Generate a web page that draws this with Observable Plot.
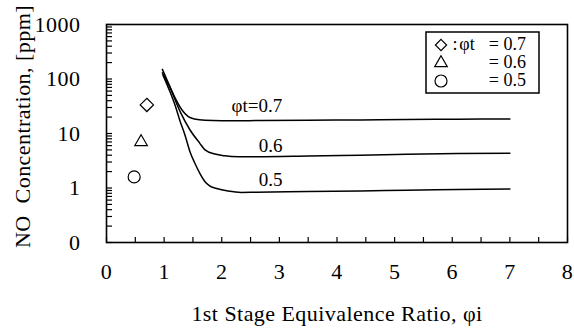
<!DOCTYPE html>
<html>
<head>
<meta charset="utf-8">
<script src="https://cdn.jsdelivr.net/npm/d3@7"></script>
<script src="https://cdn.jsdelivr.net/npm/@observablehq/plot@0.6"></script>
<style>
  body { margin: 0; background: white; }
  #chart { position: relative; width: 574px; height: 334px; }
  #chart svg text { font-family: "Liberation Serif", "Times New Roman", serif !important; font-variant-numeric: normal !important; }
</style>
</head>
<body>
<div id="chart"></div>
<script>
// ---- data ----
const xTickLabels = [0, 1, 2, 3, 4, 5, 6, 7, 8];
const xMinorTicks = d3.range(0, 8.01, 0.5);
const yTickValues = [0.1, 1, 10, 100, 1000];
const yTickLabels = ["0", "1", "10", "100", "1000"];
const yMinorTicks = [0.1, 1, 10, 100].flatMap(d => [1,2,3,4,5,6,7,8,9].map(k => k * d)).concat([1000]);

const xTitle = "1st Stage Equivalence Ratio, \u03c6i";
const yTitle = "NO\u00a0 Concentration, [ppm]";

// curve phi_t = 0.7
const x07 = [0.97, 1.07, 1.19, 1.31, 1.42, 1.53, 1.71, 2.0, 2.35, 2.7, 3.5, 4.4, 5.2, 6.1, 7.0];
const v07 = [150, 86, 45, 27, 20.4, 18.5, 17.5, 17.2, 17.2, 17.3, 17.5, 17.7, 18.0, 18.3, 18.5];
// curve phi_t = 0.6
const x06 = [0.97, 1.10, 1.28, 1.45, 1.62, 1.71, 1.88, 2.05, 2.3, 2.6, 3.5, 4.4, 5.2, 6.1, 7.0];
const v06 = [130, 70, 25, 11.6, 6.6, 5.0, 4.2, 3.9, 3.75, 3.73, 3.85, 4.0, 4.15, 4.3, 4.35];
// curve phi_t = 0.5
const x05 = [0.98, 1.10, 1.19, 1.28, 1.36, 1.45, 1.53, 1.62, 1.71, 1.79, 1.91, 2.11, 2.34, 2.6, 3.5, 4.4, 5.2, 6.1, 7.0];
const v05 = [118, 59, 33, 16.5, 9.5, 4.6, 2.9, 1.85, 1.3, 1.09, 0.98, 0.88, 0.83, 0.84, 0.86, 0.88, 0.91, 0.935, 0.96];

// single-stage points
const ptPhi = ["0.7", "0.6", "0.5"];
const ptX = [0.7, 0.6, 0.48];
const ptV = [33.5, 7.0, 1.6];

// curve labels
const lblText = ["\u03c6t=0.7", "0.6", "0.5"];
const lblX = [2.61, 2.85, 2.85];
const lblV = [32, 6.0, 1.39];

// legend
const legendSymbols = ["diamond2", "triangle2", "circle"];
const legendText = ["= 0.7", "= 0.6", "= 0.5"];

// ---- build tables ----
const curves = [
  ...x07.map((x, i) => ({phi: "0.7", x, v: v07[i]})),
  ...x06.map((x, i) => ({phi: "0.6", x, v: v06[i]})),
  ...x05.map((x, i) => ({phi: "0.5", x, v: v05[i]}))
];
const points = ptX.map((x, i) => ({phi: ptPhi[i], x, v: ptV[i]}));
const labels = lblText.map((t, i) => ({t, x: lblX[i], v: lblV[i]}));

const font = "'Liberation Serif', 'Times New Roman', serif";

const plot = Plot.plot({
  width: 574,
  height: 334,
  marginLeft: 106,
  marginRight: 7,
  marginTop: 24,
  marginBottom: 92,
  style: {fontFamily: font, fontSize: "20px", color: "black", background: "white"},
  x: {domain: [0, 8], label: null},
  y: {type: "log", domain: [0.1, 1000], label: null},
  symbol: {domain: ["0.7", "0.6", "0.5"], range: ["diamond2", "triangle2", "circle"]},
  marks: [
    Plot.axisX({ticks: xMinorTicks, tickSize: -5, tickFormat: () => "", label: null, strokeWidth: 1.2}),
    Plot.axisX({ticks: xTickLabels, tickSize: 0, tickPadding: 21, tickFormat: d => String(d), label: null, fontSize: 22}),
    Plot.axisY({ticks: yMinorTicks, tickSize: -6, tickFormat: () => "", label: null, strokeWidth: 1.2}),
    Plot.axisY({ticks: yTickValues, tickSize: 0, tickPadding: 26, tickFormat: d => yTickLabels[yTickValues.indexOf(d)], label: null, fontSize: 22}),
    Plot.frame({stroke: "black", strokeWidth: 1.6}),
    Plot.line(curves, {x: "x", y: "v", z: "phi", stroke: "black", strokeWidth: 1.5, curve: "monotone-x"}),
    Plot.dot(points, {x: "x", y: "v", symbol: "phi", r: 6, stroke: "black", strokeWidth: 1.2, fill: "white"}),
    Plot.text(labels, {x: "x", y: "v", text: "t", fontSize: 19, fill: "black"}),
    Plot.text([xTitle], {frameAnchor: "bottom", dy: 78, fontSize: 22, fill: "black", className: "xtitle"}),
    Plot.text([yTitle], {frameAnchor: "left", textAnchor: "middle", rotate: -90, dx: -84, dy: -7, fontSize: 22, fill: "black", className: "ytitle"})
  ]
});

// slight letter spacing on titles and tick labels (Times text in the reference is wide)
const svg = d3.select(plot);
svg.selectAll(".xtitle text, .ytitle text").style("letter-spacing", "0.45px");
svg.selectAll("[aria-label='x-axis tick label'] text, [aria-label='y-axis tick label'] text").style("letter-spacing", "0.5px");

// legend box (layout only)
const lg = svg.append("g").attr("font-size", 18).attr("fill", "black");
lg.append("rect").attr("x", 426).attr("y", 32).attr("width", 113).attr("height", 61)
  .attr("fill", "white").attr("stroke", "black").attr("stroke-width", 1.5);
legendSymbols.forEach((s, i) => {
  const cy = 45 + i * 18;
  let sym;
  if (s === "circle") sym = d3.symbol(d3.symbolCircle, Math.PI * 36);
  else if (s === "triangle2") sym = d3.symbol(d3.symbolTriangle2, 113);
  else sym = d3.symbol(d3.symbolDiamond2, 80);
  lg.append("path").attr("d", sym()).attr("transform", `translate(441,${cy})`)
    .attr("fill", "none").attr("stroke", "black").attr("stroke-width", 1.2);
  lg.append("text").attr("x", 526).attr("y", cy + 5).attr("text-anchor", "end").text(legendText[i]);
});
lg.append("text").attr("x", 455).attr("y", 50).text(":");
lg.append("text").attr("x", 467).attr("y", 50).text("\u03c6t");

document.getElementById("chart").appendChild(plot);
</script>
</body>
</html>
